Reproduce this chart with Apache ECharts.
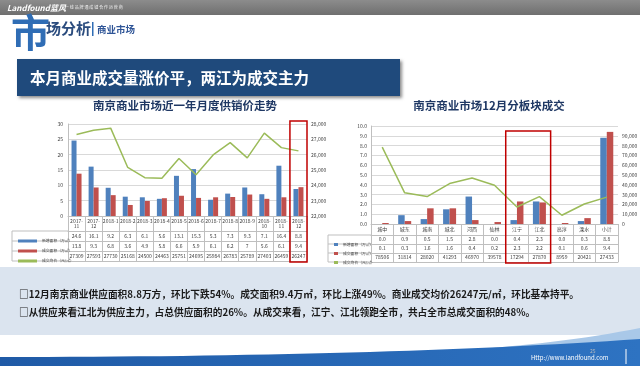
<!DOCTYPE html>
<html><head><meta charset="utf-8">
<script src="https://cdn.jsdelivr.net/npm/echarts@6/dist/echarts.min.js"></script>
<style>html,body{margin:0;padding:0;background:#fff}#c{width:640px;height:366px}</style>
</head><body><div id="c"></div>
<script>
const FONT = "'Noto Sans CJK SC','Noto Sans',sans-serif";

// ---- Left chart data: monthly supply / deal / price ----
const monthCats = ['2017-11','2017-12','2018-1','2018-2','2018-3','2018-4','2018-5','2018-6','2018-7','2018-8','2018-9','2018-10','2018-11','2018-12'];
const monthSupply = [24.6,16.1,9.2,6.3,6.1,5.6,13.1,15.3,5.3,7.3,9.3,7.1,16.4,8.8];
const monthDeal = [13.8,9.3,6.8,3.6,4.9,5.8,6.6,5.9,6.1,6.2,7,5.6,6.1,9.4];
const monthPrice = [27309,27593,27730,25168,24500,24463,25751,24695,25984,26783,25789,27403,26459,26247];

// ---- Right chart data: December by district ----
const areaCats = ['城中','城东','城南','城北','河西','仙林','江宁','江北','高淳','溧水','小计'];
const areaSupply = [0.0,0.9,0.5,1.5,2.8,0.0,0.4,2.3,0.0,0.3,8.8];
const areaDeal = [0.1,0.3,1.6,1.6,0.4,0.2,2.3,2.2,0.1,0.6,9.4];
const areaPrice = [78506,31814,28020,41293,46970,39578,17294,27870,8959,20421,27433];

// ---- axis ticks ----
const leftAreaAxis = {min:0, max:30, interval:5};
const leftPriceAxis = {min:22000, max:28000, interval:1000};
const rightAreaAxis = {min:0, max:10, interval:1};
const rightPriceAxis = {min:0, max:100000, interval:10000};

const seriesNames = ['新增面积（万㎡）','成交面积（万㎡）','成交均价（元/㎡）'];
const highlightLeft = ['2018-12'];
const highlightRight = ['江宁','江北'];

const BLUE = '#4f81bd', RED = '#c0504d', GREEN = '#9bbb59';
const LINEC = '#bfbfbf', GRIDC = '#d9d9d9', TXT = '#404040';

function catAxis(gi, cats, offset, tick, labels, lh, margin) {
  return {
    type:'category', gridIndex:gi, data:cats, position:'bottom', offset:offset,
    axisLine:{show:true, onZero:false, lineStyle:{color:LINEC, width:1}},
    axisTick:{show:tick>0, length:tick, interval:0, lineStyle:{color:LINEC}},
    axisLabel:{show:!!labels, interval:0, margin:margin||0, fontSize:5, lineHeight:lh||10,
      color:TXT, fontFamily:FONT, formatter:(v,i)=>labels ? labels[i] : ''},
    splitLine:{show:false}
  };
}
const fmtCat = s => s.length > 6 ? s.replace('-', '-\n') : s;

const option = {
  animation:false,
  textStyle:{fontFamily:FONT},
  grid:[
    {left:68, right:333, top:124, bottom:150, outerBoundsMode:'none', containLabel:false},
    {left:371, right:22, top:126, bottom:142, outerBoundsMode:'none', containLabel:false}
  ],
  xAxis:[
    catAxis(0, monthCats, 0, 15, monthCats.map(fmtCat), 5.5, 2),
    catAxis(0, monthCats, 15, 10, monthSupply.map(String), 10),
    catAxis(0, monthCats, 25, 10, monthDeal.map(String), 10),
    catAxis(0, monthCats, 35, 10, monthPrice.map(String), 10),
    catAxis(0, monthCats, 45, 0, null),
    catAxis(1, areaCats, 0, 11, areaCats, 11, 0),
    catAxis(1, areaCats, 11, 9, areaSupply.map(v=>v.toFixed(1)), 9),
    catAxis(1, areaCats, 20, 9, areaDeal.map(v=>v.toFixed(1)), 9),
    catAxis(1, areaCats, 29, 9, areaPrice.map(String), 9),
    catAxis(1, areaCats, 38, 0, null)
  ],
  yAxis:[
    {type:'value', gridIndex:0, position:'left', ...leftAreaAxis,
      axisLine:{show:true, lineStyle:{color:LINEC}}, axisTick:{show:false},
      axisLabel:{fontSize:5, color:TXT, margin:5, fontFamily:FONT},
      splitLine:{lineStyle:{color:GRIDC}}},
    {type:'value', gridIndex:0, position:'right', ...leftPriceAxis,
      axisLine:{show:false}, axisTick:{show:false},
      axisLabel:{fontSize:5, color:TXT, margin:4, fontFamily:FONT}, splitLine:{show:false}},
    {type:'value', gridIndex:1, position:'left', ...rightAreaAxis,
      axisLine:{show:true, lineStyle:{color:LINEC}}, axisTick:{show:false},
      axisLabel:{fontSize:5, color:TXT, margin:4, fontFamily:FONT, formatter:v=>v.toFixed(1)},
      splitLine:{lineStyle:{color:GRIDC}}},
    {type:'value', gridIndex:1, position:'right', ...rightPriceAxis,
      axisLine:{show:false}, axisTick:{show:false},
      axisLabel:{fontSize:5, color:TXT, margin:4, fontFamily:FONT, showMaxLabel:false}, splitLine:{show:false}}
  ],
  legend:[
    {orient:'vertical', left:13, top:231, itemWidth:19, itemHeight:3, itemGap:0, selectedMode:false,
      textStyle:{fontSize:3.8, lineHeight:10, color:TXT, fontFamily:FONT},
      data:seriesNames.map(n=>({name:n, icon:'rect'}))},
    {orient:'vertical', left:329, top:235, itemWidth:4, itemHeight:3, itemGap:0, selectedMode:false,
      textStyle:{fontSize:3.8, lineHeight:9, color:TXT, fontFamily:FONT},
      data:seriesNames.map(n=>({name:n, icon:'rect'}))}
  ],
  series:[
    {name:seriesNames[0], type:'bar', xAxisIndex:0, yAxisIndex:0, data:monthSupply, barWidth:5, barGap:'0%', itemStyle:{color:BLUE}},
    {name:seriesNames[1], type:'bar', xAxisIndex:0, yAxisIndex:0, data:monthDeal, barWidth:5, barGap:'0%', itemStyle:{color:RED}},
    {name:seriesNames[2], type:'line', xAxisIndex:0, yAxisIndex:1, data:monthPrice, showSymbol:false, symbol:'none',
      lineStyle:{color:GREEN, width:1.5}, itemStyle:{color:GREEN}},
    {name:seriesNames[0], type:'bar', xAxisIndex:5, yAxisIndex:2, data:areaSupply, barWidth:6.5, barGap:'0%', itemStyle:{color:BLUE}},
    {name:seriesNames[1], type:'bar', xAxisIndex:5, yAxisIndex:2, data:areaDeal, barWidth:6.5, barGap:'0%', itemStyle:{color:RED}},
    {name:seriesNames[2], type:'line', xAxisIndex:5, yAxisIndex:3, data:areaPrice, showSymbol:false, symbol:'none',
      lineStyle:{color:GREEN, width:1.5}, itemStyle:{color:GREEN}}
  ]
};

// decorative curve sampler for the footer swoosh
function curve(x0,y0,cx,cy,x1,y1,n){const p=[];for(let i=0;i<=n;i++){const t=i/n,u=1-t;p.push([u*u*x0+2*u*t*cx+t*t*x1,u*u*y0+2*u*t*cy+t*t*y1]);}return p;}
const lightTop = curve(330,356,520,352,640,328,24), lightBot = curve(640,340,520,354,330,357,24);
const darkTop = curve(0,357,380,357,640,339,32);

const deco = [
  {type:'rect', shape:{x:0,y:0,width:640,height:15}, style:{fill:new echarts.graphic.LinearGradient(0,0,0,1,[{offset:0,color:'#8c8c8c'},{offset:1,color:'#6f6f6f'}])}, z:-1},
  {type:'text', x:7, y:7.5, style:{text:'Landfound蓝风', fill:'#fff', fontSize:8, fontWeight:'bold', fontStyle:'italic', fontFamily:FONT, verticalAlign:'middle'}},
  {type:'text', x:62, y:7.5, style:{text:'|  一 线 品 牌 通 成 键 合 作 运 营 商', fill:'#eee', fontSize:4, fontFamily:FONT, verticalAlign:'middle'}},
  {type:'text', x:11, y:13, style:{text:'市', fill:'#2f6db5', fontSize:39, fontWeight:'bold', fontFamily:FONT, verticalAlign:'top'}},
  {type:'text', x:46, y:28, style:{text:'场分析', fill:'#2b4c7e', fontSize:15, fontWeight:'bold', fontFamily:FONT, verticalAlign:'middle'}},
  {type:'rect', shape:{x:92,y:22,width:1.5,height:14}, style:{fill:'#2f6db5'}},
  {type:'text', x:97, y:29, style:{text:'商业市场', fill:'#2f5597', fontSize:9.5, fontWeight:'bold', fontFamily:FONT, verticalAlign:'middle'}},
  {type:'rect', shape:{x:17,y:59,width:383,height:37}, style:{fill:'#1f4a7c', shadowColor:'rgba(0,0,0,0.45)', shadowOffsetX:2, shadowOffsetY:2, shadowBlur:3}},
  {type:'text', x:30, y:78, style:{text:'本月商业成交量涨价平，两江为成交主力', fill:'#fff', fontSize:15.5, fontWeight:'bold', fontFamily:FONT, verticalAlign:'middle'}},
  {type:'text', x:185, y:106, style:{text:'南京商业市场近一年月度供销价走势', fill:'#1f3864', fontSize:11.5, fontWeight:'bold', fontFamily:FONT, align:'center', verticalAlign:'middle'}},
  {type:'text', x:489, y:106, style:{text:'南京商业市场12月分板块成交', fill:'#1f3864', fontSize:11.5, fontWeight:'bold', fontFamily:FONT, align:'center', verticalAlign:'middle'}},
  {type:'polyline', shape:{points:[[68,231],[12,231],[12,261],[68,261]]}, style:{stroke:LINEC, fill:null, lineWidth:1}},
  {type:'line', shape:{x1:12,y1:241,x2:68,y2:241}, style:{stroke:LINEC, lineWidth:1}},
  {type:'line', shape:{x1:12,y1:251,x2:68,y2:251}, style:{stroke:LINEC, lineWidth:1}},
  {type:'polyline', shape:{points:[[371,235],[328,235],[328,262],[371,262]]}, style:{stroke:LINEC, fill:null, lineWidth:1}},
  {type:'line', shape:{x1:328,y1:244,x2:371,y2:244}, style:{stroke:LINEC, lineWidth:1}},
  {type:'line', shape:{x1:328,y1:253,x2:371,y2:253}, style:{stroke:LINEC, lineWidth:1}},
  {type:'rect', shape:{x:0,y:267,width:640,height:68}, style:{fill:'#dbe4ef'}, z:-1},
  {type:'text', x:19, y:294, style:{text:'□12月南京商业供应面积8.8万方，环比下跌54%。成交面积9.4万㎡，环比上涨49%。商业成交均价26247元/㎡，环比基本持平。', fill:'#1a1a1a', fontSize:9.7, fontWeight:'bold', fontFamily:FONT, verticalAlign:'middle'}},
  {type:'text', x:19, y:312, style:{text:'□从供应来看江北为供应主力，占总供应面积的26%。从成交来看，江宁、江北领跑全市，共占全市总成交面积的48%。', fill:'#1a1a1a', fontSize:9.7, fontWeight:'bold', fontFamily:FONT, verticalAlign:'middle'}},
  {type:'polygon', shape:{points:lightTop.concat(lightBot)}, style:{fill:'#a9c8e8'}},
  {type:'polygon', shape:{points:[[0,366]].concat(darkTop,[[640,366]])}, style:{fill:new echarts.graphic.LinearGradient(0,0,1,0,[{offset:0,color:'#1f5aa6'},{offset:1,color:'#2e73c2'}])}},
  {type:'text', x:531, y:358, style:{text:'Http://www.landfound.com', fill:'#fff', fontSize:6, fontFamily:FONT, verticalAlign:'middle'}},
  {type:'text', x:590, y:351, style:{text:'25', fill:'#bbb', fontSize:5, fontFamily:FONT, verticalAlign:'middle'}},
  {type:'line', shape:{x1:626,y1:349,x2:626,y2:364}, style:{stroke:'#fff', lineWidth:1}}
];
option.graphic = deco;

const chart = echarts.init(document.getElementById('c'), null, {renderer:'canvas'});
chart.setOption(option);

function boxFor(xAxisIndex, cats, sel, top, bottom) {
  const bw = chart.convertToPixel({xAxisIndex}, cats[1]) - chart.convertToPixel({xAxisIndex}, cats[0]);
  const xs = sel.map(c => chart.convertToPixel({xAxisIndex}, c));
  const x1 = Math.min(...xs) - bw/2, x2 = Math.max(...xs) + bw/2;
  return {type:'rect', shape:{x:x1, y:top, width:x2-x1, height:bottom-top}, style:{fill:null, stroke:'#c00000', lineWidth:1.5}, z:100};
}
const topL = chart.convertToPixel({yAxisIndex:0}, leftAreaAxis.max) - 3;
const topR = chart.convertToPixel({yAxisIndex:2}, rightAreaAxis.max) + 5;
chart.setOption({graphic: deco.concat([
  boxFor(0, monthCats, highlightLeft, topL, 262),
  boxFor(5, areaCats, highlightRight, topR, 263)
])});
</script></body></html>
